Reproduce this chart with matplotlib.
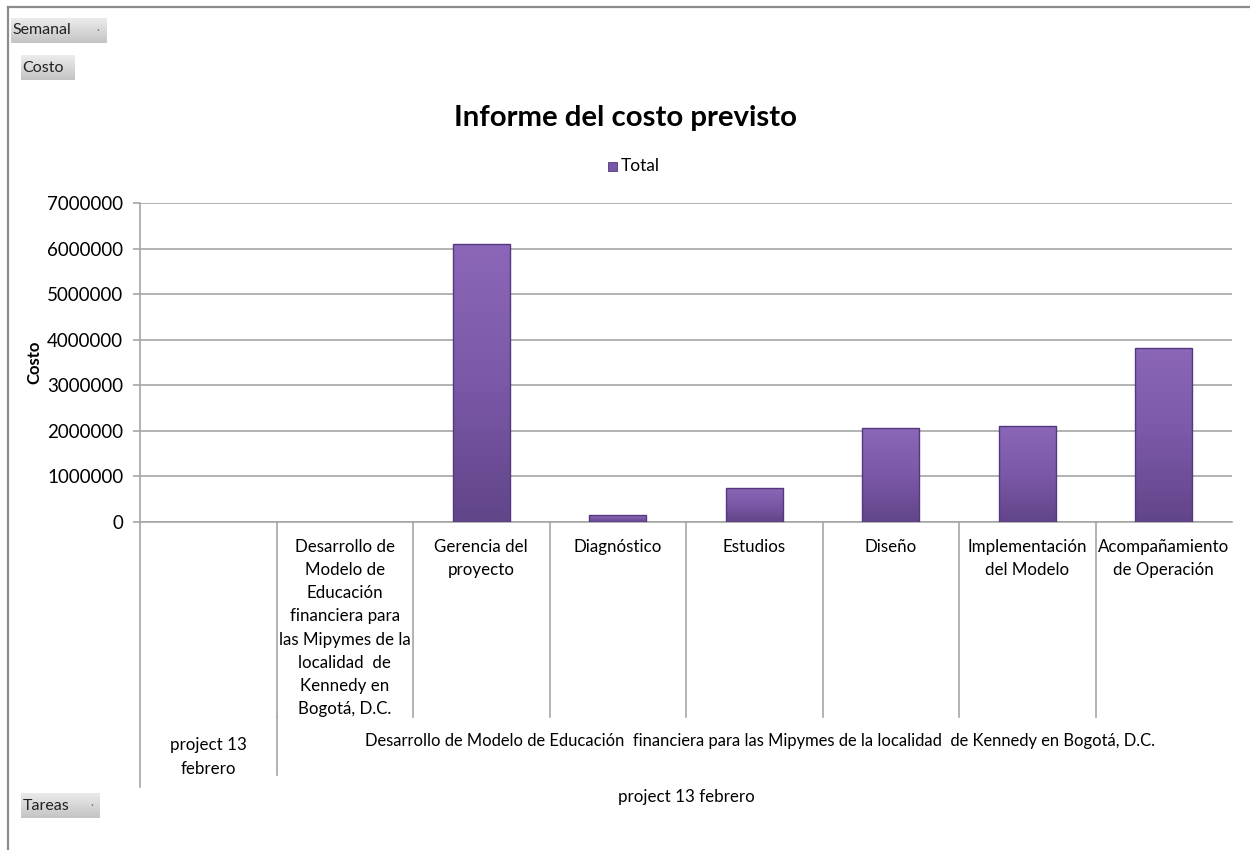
import numpy as np
import matplotlib
matplotlib.use("Agg")
import matplotlib.pyplot as plt
import matplotlib.transforms as mtransforms
from matplotlib.patches import Rectangle
from matplotlib.lines import Line2D

plt.rcParams['font.family'] = ['Lato', 'DejaVu Sans']

# ---------------- data ----------------
categories = [
    "",
    "Desarrollo de\nModelo de\nEducación\nfinanciera para\nlas Mipymes de la\nlocalidad  de\nKennedy en\nBogotá, D.C.",
    "Gerencia del\nproyecto",
    "Diagnóstico",
    "Estudios",
    "Diseño",
    "Implementación\ndel Modelo",
    "Acompañamiento\nde Operación",
]
values = [0, 0, 6100000, 150000, 750000, 2060000, 2100000, 3820000]
level2_labels = ["project 13\nfebrero",
                 "Desarrollo de Modelo de Educación  financiera para las Mipymes de la localidad  de Kennedy en Bogotá, D.C."]
level3_label = "project 13 febrero"
yticks = [0, 1000000, 2000000, 3000000, 4000000, 5000000, 6000000, 7000000]
title = "Informe del costo previsto"
series_name = "Total"

W, H = 1250, 850
fig = plt.figure(figsize=(W / 100, H / 100), dpi=100)

def fx(px):
    return px / W

def fy(py):
    return 1 - py / H

ax = fig.add_axes([fx(140), fy(522), fx(1232) - fx(140), fy(203) - fy(522)])
n = len(categories)

grid_c = '#a6a6a6'
for s in ['top', 'right']:
    ax.spines[s].set_visible(False)
for s in ['left', 'bottom']:
    ax.spines[s].set_color(grid_c)
    ax.spines[s].set_linewidth(1.2)
ax.set_yticks(yticks)
ax.set_yticklabels([str(v) for v in yticks], fontsize=13.5, color='#000000')
ax.tick_params(axis='y', length=5, width=1.2, color=grid_c, pad=7)
ax.set_xticks([])
ax.yaxis.grid(True, color=grid_c, linewidth=1.2)
ax.set_axisbelow(True)
ax.set_ylabel("Costo", fontsize=12, fontweight='bold')
ax.yaxis.set_label_coords(-(140 - 42) / (1232 - 140), 0.5)

# bars with vertical gradient
bw = 0.42
grad = np.linspace(0, 1, 256).reshape(-1, 1)
cmap = matplotlib.colors.LinearSegmentedColormap.from_list(
    'p', ['#614589', '#7b58a8', '#8c67b9'])
for i, v in enumerate(values):
    if v <= 0:
        continue
    rect = Rectangle((i - bw / 2, 0), bw, v, facecolor='none',
                     edgecolor='#55397c', linewidth=1.0, zorder=4)
    ax.add_patch(rect)
    im = ax.imshow(grad, extent=(i - bw / 2, i + bw / 2, 0, v), origin='lower',
                   cmap=cmap, aspect='auto', zorder=3)
    im.set_clip_path(rect)
ax.set_xlim(-0.5, n - 0.5)
ax.set_ylim(0, 7000000)

# multi-level category axis
bt = mtransforms.blended_transform_factory(ax.transData, fig.transFigure)
lc = grid_c
def vline(x, y0, y1):
    fig.add_artist(Line2D([x, x], [fy(y0), fy(y1)], transform=bt, color=lc, lw=1.2, clip_on=False))

vline(-0.5, 522, 787)
for b in range(1, n):
    vline(b - 0.5, 522, 717)
vline(0.5, 717, 775)

fs = 12.2
for i, lab in enumerate(categories):
    if lab:
        fig.text(i, fy(539), lab, transform=bt, ha='center', va='top',
                 fontsize=fs, linespacing=1.55)
fig.text(0, fy(757), level2_labels[0], transform=bt, ha='center', va='center',
         fontsize=fs, linespacing=1.55)
fig.text((1 + 7) / 2 + 0.04, fy(741), level2_labels[1], transform=bt, ha='center', va='center',
         fontsize=11.9)
fig.text((0 + 7) / 2, fy(797), level3_label, transform=bt, ha='center', va='center',
         fontsize=fs)

# title and legend
fig.text(fx(625), fy(118), title, ha='center', va='center', fontsize=21.2, fontweight='bold')
fig.add_artist(Rectangle((fx(608), fy(171)), fx(9), 9 / H, transform=fig.transFigure,
                         facecolor='#7a56a6', edgecolor='#53397a', lw=0.6))
fig.text(fx(621), fy(166), series_name, ha='left', va='center', fontsize=12.5)

# outer frame
fig.add_artist(Line2D([fx(8), fx(8)], [fy(7), 0], transform=fig.transFigure, color='#8c8c8c', lw=1.6))
fig.add_artist(Line2D([fx(8), 1], [fy(7), fy(7)], transform=fig.transFigure, color='#8c8c8c', lw=1.6))

# field buttons
bgrad = np.linspace(0, 1, 64).reshape(-1, 1)
bcmap = matplotlib.colors.LinearSegmentedColormap.from_list('g', ['#c4c4c4', '#ececec'])
def button(x0, y0, x1, y1, label, dot=True):
    bax = fig.add_axes([fx(x0), fy(y1), fx(x1) - fx(x0), fy(y0) - fy(y1)])
    bax.imshow(bgrad, origin='lower', cmap=bcmap, aspect='auto', extent=(0, 1, 0, 1))
    bax.set_xlim(0, 1); bax.set_ylim(0, 1)
    bax.axis('off')
    bax.text(1.5 / (x1 - x0), 0.5, label, ha='left', va='center', fontsize=11.5, color='#222222')
    if dot:
        bax.text(0.9, 0.5, '·', ha='center', va='center', fontsize=8, color='#777777')

button(11, 18, 107, 43, "Semanal")
button(21, 55, 75, 80, "Costo", dot=False)
button(21, 793, 100, 818, "Tareas")

fig.savefig("out.png", dpi=100, facecolor='white')
